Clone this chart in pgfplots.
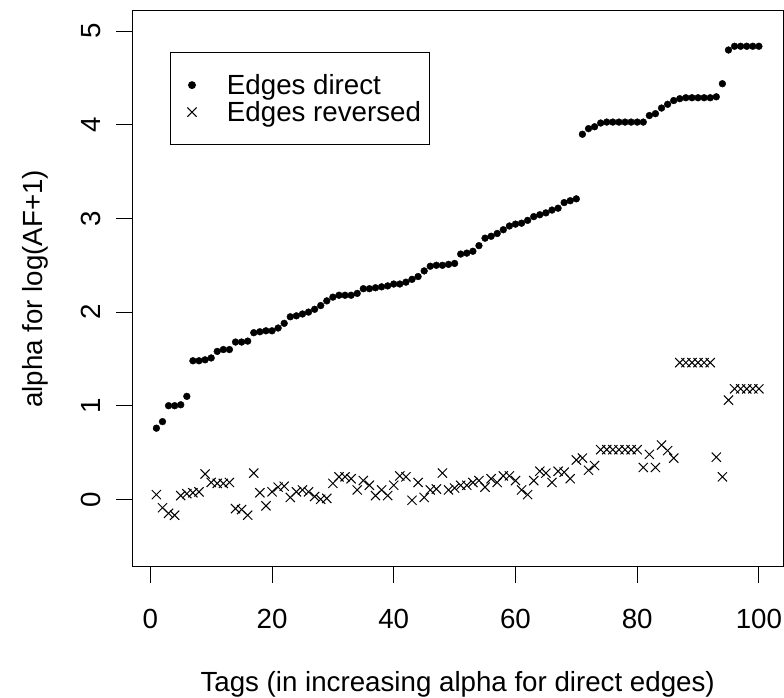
\documentclass[border=0pt]{standalone}
\usepackage{fontspec}
\setmainfont{Liberation Sans}
\usepackage{pgfplots}
\pgfplotsset{compat=1.18}
\usepackage{pgfplotstable}

% alpha for log(AF+1), edges taken in the direct orientation
\pgfplotstableread{
x y
1 0.76
2 0.83
3 1.00
4 1.00
5 1.01
6 1.10
7 1.48
8 1.48
9 1.49
10 1.51
11 1.58
12 1.60
13 1.60
14 1.68
15 1.68
16 1.69
17 1.78
18 1.79
19 1.80
20 1.80
21 1.83
22 1.88
23 1.95
24 1.96
25 1.98
26 2.00
27 2.03
28 2.07
29 2.12
30 2.16
31 2.18
32 2.18
33 2.18
34 2.20
35 2.25
36 2.25
37 2.26
38 2.27
39 2.28
40 2.30
41 2.30
42 2.32
43 2.35
44 2.38
45 2.44
46 2.49
47 2.50
48 2.50
49 2.51
50 2.52
51 2.62
52 2.63
53 2.65
54 2.71
55 2.79
56 2.81
57 2.84
58 2.88
59 2.92
60 2.94
61 2.95
62 2.98
63 3.02
64 3.04
65 3.06
66 3.09
67 3.11
68 3.17
69 3.19
70 3.21
71 3.90
72 3.96
73 3.98
74 4.02
75 4.03
76 4.03
77 4.03
78 4.03
79 4.03
80 4.03
81 4.03
82 4.10
83 4.12
84 4.18
85 4.22
86 4.26
87 4.28
88 4.29
89 4.29
90 4.29
91 4.29
92 4.29
93 4.30
94 4.44
95 4.80
96 4.84
97 4.84
98 4.84
99 4.84
100 4.84
}\directtab

% the same tags with the edges reversed
\pgfplotstableread{
x y
1 0.05
2 -0.09
3 -0.15
4 -0.17
5 0.04
6 0.06
7 0.07
8 0.08
9 0.27
10 0.18
11 0.17
12 0.17
13 0.18
14 -0.10
15 -0.11
16 -0.17
17 0.28
18 0.07
19 -0.07
20 0.08
21 0.13
22 0.14
23 0.02
24 0.08
25 0.10
26 0.08
27 0.03
28 0.00
29 0.01
30 0.17
31 0.24
32 0.24
33 0.22
34 0.10
35 0.20
36 0.15
37 0.04
38 0.10
39 0.04
40 0.15
41 0.25
42 0.24
43 -0.01
44 0.18
45 0.02
46 0.10
47 0.11
48 0.28
49 0.10
50 0.12
51 0.15
52 0.15
53 0.18
54 0.20
55 0.13
56 0.22
57 0.18
58 0.25
59 0.25
60 0.20
61 0.10
62 0.05
63 0.20
64 0.30
65 0.28
66 0.18
67 0.30
68 0.29
69 0.22
70 0.42
71 0.44
72 0.31
73 0.36
74 0.53
75 0.53
76 0.53
77 0.53
78 0.53
79 0.53
80 0.53
81 0.34
82 0.48
83 0.34
84 0.58
85 0.52
86 0.44
87 1.46
88 1.46
89 1.46
90 1.46
91 1.46
92 1.46
93 0.45
94 0.24
95 1.06
96 1.18
97 1.18
98 1.18
99 1.18
100 1.18
}\reversedtab

\newcommand{\chartfont}{\fontsize{27.8}{33}\selectfont}

\begin{document}
\begin{tikzpicture}
\useasboundingbox (0,0) rectangle (784bp,698bp);
\begin{axis}[
  at={(132.3bp,131.3bp)}, anchor=south west,
  scale only axis, width=650.7bp, height=556bp,
  xmin=-2.96, xmax=103.96, ymin=-0.72, ymax=5.22,
  xtick={0,20,40,60,80,100}, ytick={0,1,2,3,4,5},
  minor tick num=0,
  axis line style={line width=1bp, black},
  tick style={line width=1bp, black},
  major tick length=16bp,
  tick align=outside,
  xtick pos=bottom, ytick pos=left,
  /pgf/number format/assume math mode=true,
  tick label style={font=\chartfont},
  xticklabel style={anchor=base, inner sep=0pt},
  yticklabel style={rotate=90, anchor=base, inner sep=0pt},
  xticklabel shift=46bp,
  yticklabel shift=16bp,
  label style={font=\chartfont},
  xlabel={Tags (in increasing alpha for direct edges)},
  ylabel={alpha for log(AF+1)},
  xlabel style={at={(axis description cs:0.5,-0.2248)}, anchor=base, inner sep=0pt},
  ylabel style={at={(axis description cs:-0.1374,0.5)}, anchor=base, inner sep=0pt},
  legend style={at={(axis description cs:0.0587,0.926)}, anchor=north west,
    draw=black, line width=1bp, font=\chartfont,
    inner xsep=7bp, inner ysep=20bp, row sep=1.5bp, column sep=19bp,
    nodes={inner xsep=2bp}},
  legend cell align=left,
  legend image code/.code={%
    \path[draw=none, fill=none] (0bp,-6bp) rectangle (28bp,6bp);
    \draw[#1,mark repeat=2,mark phase=2] plot coordinates {(0bp,0bp)(14bp,0bp)(28bp,0bp)};},
]
\addplot[only marks, mark=*, mark size=3.4bp, black, fill=black] table[x=x,y=y] {\directtab};
\addlegendentry{Edges direct}
\addplot[only marks, mark=x, mark size=6.5bp, black, line width=1bp] table[x=x,y=y] {\reversedtab};
\addlegendentry{Edges reversed}
\end{axis}
\end{tikzpicture}
\end{document}
